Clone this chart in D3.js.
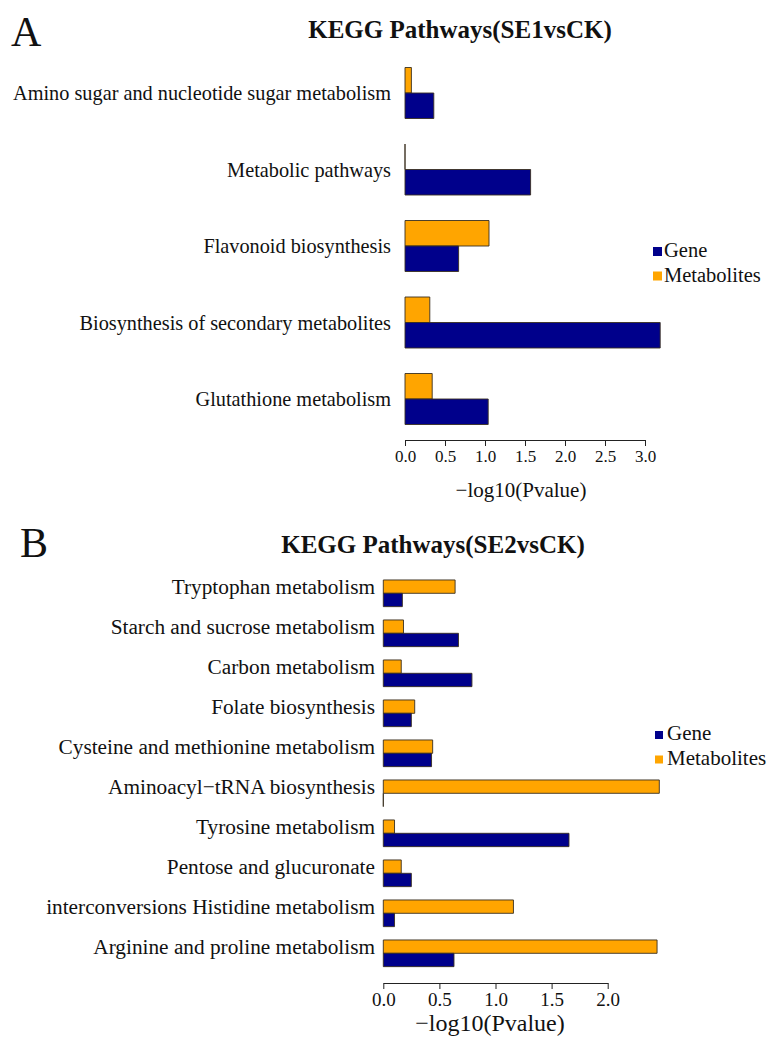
<!DOCTYPE html>
<html>
<head>
<meta charset="utf-8">
<script src="https://cdn.jsdelivr.net/npm/d3@7"></script>
<style>
  html, body { margin: 0; padding: 0; background: #fff; }
  svg { display: block; }
  text { font-family: "Liberation Serif", "Times New Roman", serif; fill: #111; }
</style>
</head>
<body>
<script>
// ---- Panel A: SE1 vs CK ----
const categoriesA = [
  "Amino sugar and nucleotide sugar metabolism",
  "Metabolic pathways",
  "Flavonoid biosynthesis",
  "Biosynthesis of secondary metabolites",
  "Glutathione metabolism"
];
const geneA = [0.36, 1.57, 0.67, 3.19, 1.04];
const metabolitesA = [0.08, 0, 1.05, 0.31, 0.34];
const ticksA = [0, 0.5, 1.0, 1.5, 2.0, 2.5, 3.0];

// ---- Panel B: SE2 vs CK ----
const categoriesB = [
  "Tryptophan metabolism",
  "Starch and sucrose metabolism",
  "Carbon metabolism",
  "Folate biosynthesis",
  "Cysteine and methionine metabolism",
  "Aminoacyl\u2212tRNA biosynthesis",
  "Tyrosine metabolism",
  "Pentose and glucuronate",
  "interconversions Histidine metabolism",
  "Arginine and proline metabolism"
];
const geneB = [0.17, 0.67, 0.79, 0.25, 0.43, 0, 1.655, 0.25, 0.10, 0.63];
const metabolitesB = [0.64, 0.18, 0.16, 0.28, 0.44, 2.46, 0.10, 0.16, 1.16, 2.44];
const ticksB = [0, 0.5, 1.0, 1.5, 2.0];

const seriesNames = ["Metabolites", "Gene"];
const colors = { Gene: "#00008B", Metabolites: "#FFA500" };

const W = 778, H = 1037;
const svg = d3.select("body").append("svg")
  .attr("width", W).attr("height", H)
  .attr("viewBox", `0 0 ${W} ${H}`);

function drawPanel(o) {
  const g = svg.append("g");

  const x = d3.scaleLinear().domain(o.xDomain).range(o.xRange);
  const y = d3.scaleBand().domain(o.categories).range(o.yRange)
    .paddingInner(1 / 3).paddingOuter(1 / 6);
  const sub = d3.scaleBand().domain(seriesNames).range([0, y.bandwidth()]);

  const rows = o.categories.map((c, i) => ({
    cat: c,
    values: [
      { key: "Metabolites", v: o.metabolites[i] },
      { key: "Gene", v: o.gene[i] }
    ]
  }));

  // bars drawn as paths so a zero value still shows its outline
  g.selectAll("g.grp").data(rows).join("g")
    .attr("class", "grp")
    .attr("transform", d => `translate(0,${y(d.cat)})`)
    .selectAll("path").data(d => d.values).join("path")
    .attr("d", d => {
      const x0 = x(0), x1 = x(d.v), y0 = sub(d.key), h = sub.bandwidth();
      return `M${x0},${y0}H${x1}V${y0 + h}H${x0}Z`;
    })
    .attr("fill", d => colors[d.key])
    .attr("stroke", "#3a3020")
    .attr("stroke-width", 0.9);

  // category labels
  g.selectAll("text.cat").data(o.categories).join("text")
    .attr("class", "cat")
    .attr("x", o.labelX)
    .attr("y", d => y(d) + y.bandwidth() / 2 + o.labelDy)
    .attr("text-anchor", "end")
    .attr("font-size", o.labelSize)
    .text(d => d);

  // x axis
  const axis = d3.axisBottom(x).tickValues(o.ticks)
    .tickFormat(d3.format(".1f")).tickSize(6).tickSizeOuter(0).tickPadding(4);
  const ax = g.append("g").attr("transform", `translate(0,${o.axisY})`).call(axis);
  ax.select(".domain").attr("stroke", "#222");
  ax.selectAll(".tick line").attr("stroke", "#222");
  ax.selectAll(".tick text")
    .attr("font-size", o.tickSize)
    .attr("fill", "#222");

  g.append("text")
    .attr("x", o.xTitleX).attr("y", o.xTitleY)
    .attr("text-anchor", "middle")
    .attr("font-size", o.xTitleSize)
    .text("\u2212log10(Pvalue)");

  // title and panel letter
  g.append("text")
    .attr("x", o.titleX).attr("y", o.titleY)
    .attr("text-anchor", "middle")
    .attr("font-size", 25).attr("font-weight", "bold")
    .text(o.title);
  g.append("text")
    .attr("x", o.letterX).attr("y", o.letterY)
    .attr("font-size", 42)
    .text(o.letter);

  // legend
  const leg = g.append("g");
  ["Gene", "Metabolites"].forEach((k, i) => {
    leg.append("rect")
      .attr("x", o.legX).attr("y", o.legY + i * o.legStep - o.legBox - 1)
      .attr("width", o.legBox).attr("height", o.legBox)
      .attr("fill", colors[k]);
    leg.append("text")
      .attr("x", o.legX + o.legBox + o.legGap).attr("y", o.legY + i * o.legStep)
      .attr("font-size", o.legSize)
      .text(k);
  });
}

drawPanel({
  categories: categoriesA, gene: geneA, metabolites: metabolitesA, ticks: ticksA,
  xDomain: [0, 3], xRange: [405, 645],
  yRange: [54.75, 437.25],
  labelX: 391, labelDy: 7, labelSize: 20.3,
  axisY: 440, tickSize: 17,
  xTitleX: 521, xTitleY: 497, xTitleSize: 21,
  title: "KEGG Pathways(SE1vsCK)", titleX: 460, titleY: 38,
  letter: "A", letterX: 11, letterY: 46,
  legX: 653, legY: 257, legStep: 24.5, legBox: 9, legGap: 2, legSize: 20.5
});

drawPanel({
  categories: categoriesB, gene: geneB, metabolites: metabolitesB, ticks: ticksB,
  xDomain: [0, 2], xRange: [383.3, 607.7],
  yRange: [573.3, 973.3],
  labelX: 375, labelDy: 1, labelSize: 21.3,
  axisY: 983, tickSize: 19,
  xTitleX: 490, xTitleY: 1031, xTitleSize: 24,
  title: "KEGG Pathways(SE2vsCK)", titleX: 433, titleY: 553,
  letter: "B", letterX: 20, letterY: 557,
  legX: 655, legY: 740, legStep: 24.5, legBox: 8, legGap: 4, legSize: 21
});
</script>
</body>
</html>
